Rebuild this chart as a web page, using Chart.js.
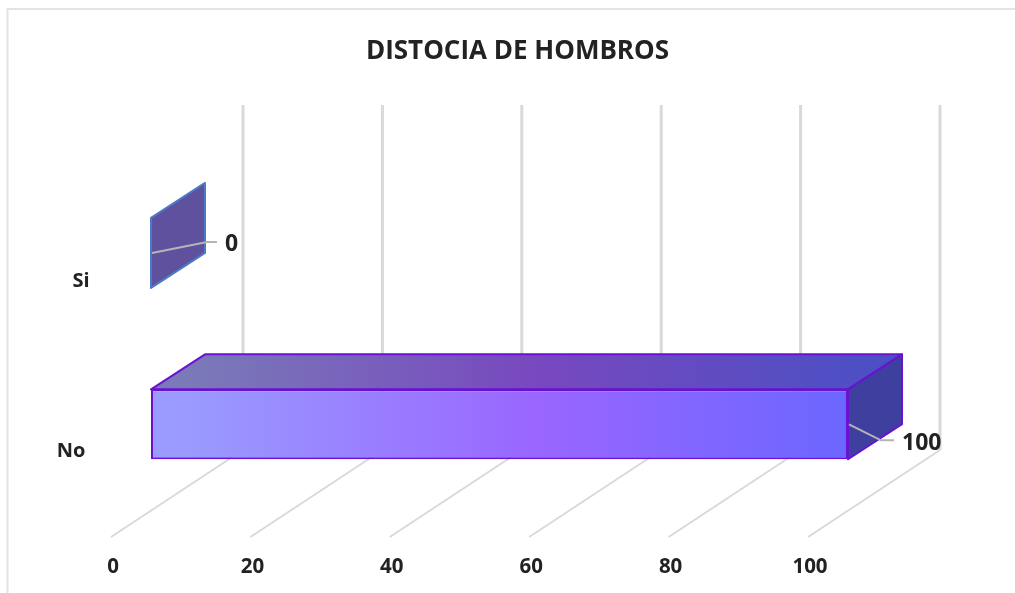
<!DOCTYPE html>
<html>
<head>
<meta charset="utf-8">
<title>Distocia de hombros</title>
<script src="https://cdn.jsdelivr.net/npm/chart.js@4/dist/chart.umd.min.js"></script>
<style>
    html, body { margin: 0; background: #fff; }
    canvas { display: block; }
</style>
</head>
<body>
<canvas id="hombrosChart" width="1015" height="593"></canvas>
<script>
const titleText = 'DISTOCIA DE HOMBROS';
const categories = ['Si', 'No'];
const casos = [0, 100];
const xMin = 0;
const xMax = 100;
const xStep = 20;

const FONT = '"Open Sans", sans-serif';
const TEXT_COLOR = '#222';
const GRID_COLOR = '#d9d9d9';
const FRONT_STOPS = ['#9a9aff', '#9966ff', '#6666ff'];
const TOP_STOPS = ['#7a7ab8', '#7848bf', '#4a50c4'];

// the bars sit part way back on the floor of the 3D box
const BAR_SHIFT = 38;
const BAR_DEPTH = { x: 54, y: -35 };
const FLOOR_FRONT_Y = 537;
const FLOOR_DEPTH = { x: 132, y: -87 };
const WALL_TOP = 105;

function xGradient(chart, stops) {
    const scale = chart.scales.x;
    const left = scale.getPixelForValue(xMin) + BAR_SHIFT;
    const right = scale.getPixelForValue(xMax) + BAR_SHIFT;
    // scales have no pixels yet on the first pass
    if (!Number.isFinite(left) || !Number.isFinite(right)) return stops[1];
    const g = chart.ctx.createLinearGradient(left, 0, right, 0);
    stops.forEach((c, i) => g.addColorStop(i / (stops.length - 1), c));
    return g;
}

function face(ctx, pts, fill, stroke) {
    ctx.beginPath();
    pts.forEach((p, i) => i ? ctx.lineTo(p[0], p[1]) : ctx.moveTo(p[0], p[1]));
    ctx.closePath();
    ctx.fillStyle = fill;
    ctx.fill();
    ctx.lineWidth = 2;
    ctx.strokeStyle = stroke;
    ctx.stroke();
}

// frame, back wall lines and floor lines
const boxPlugin = {
    id: 'box',
    beforeDatasetsDraw(chart) {
        const { ctx, scales: { x } } = chart;
        ctx.save();
        ctx.strokeStyle = '#e3e3e3';
        ctx.lineWidth = 2;
        ctx.beginPath();
        ctx.moveTo(7.5, 593);
        ctx.lineTo(7.5, 9);
        ctx.lineTo(1015, 9);
        ctx.stroke();

        ctx.strokeStyle = GRID_COLOR;
        x.ticks.forEach((t) => {
            const px = x.getPixelForValue(t.value) - 2;
            ctx.lineWidth = 2;
            ctx.beginPath();
            ctx.moveTo(px, FLOOR_FRONT_Y);
            ctx.lineTo(px + FLOOR_DEPTH.x, FLOOR_FRONT_Y + FLOOR_DEPTH.y);
            ctx.stroke();
            ctx.lineWidth = 3;
            ctx.beginPath();
            ctx.moveTo(px + FLOOR_DEPTH.x, FLOOR_FRONT_Y + FLOOR_DEPTH.y);
            ctx.lineTo(px + FLOOR_DEPTH.x, WALL_TOP);
            ctx.stroke();
        });
        ctx.restore();
    }
};

// top and side faces, then the library's own bar as the front face
const barPlugin = {
    id: 'bar3d',
    beforeDatasetsDraw(chart) {
        const { ctx } = chart;
        ctx.save();
        ctx.translate(BAR_SHIFT, 0);
        ctx.lineJoin = 'round';
        chart.getDatasetMeta(0).data.forEach((el, i) => {
            const top = el.y - el.height / 2;
            const bottom = el.y + el.height / 2;
            const d = BAR_DEPTH;
            const side = [[el.x, top], [el.x + d.x, top + d.y], [el.x + d.x, bottom + d.y], [el.x, bottom]];
            if (casos[i] > 0) {
                face(ctx, [[el.base, top], [el.x, top], [el.x + d.x, top + d.y], [el.base + d.x, top + d.y]],
                    xGradient(chart, TOP_STOPS), '#6a12d2');
                face(ctx, side, '#3f3f9f', '#6a12d2');
            } else {
                face(ctx, side, '#60519f', '#4a7ac8');
            }
        });
    },
    afterDatasetsDraw(chart) {
        chart.ctx.restore();
    }
};

// category names, leader lines and value labels
const labelPlugin = {
    id: 'labels3d',
    afterDraw(chart) {
        const { ctx, scales: { y } } = chart;
        const nameX = [81, 71];
        const nameDrop = [28, 27];
        const leaderDrop = [-11, 16];
        const labelDrop = [-8, 19];
        ctx.save();
        ctx.fillStyle = TEXT_COLOR;
        ctx.textBaseline = 'middle';
        ctx.font = 'bold 20px ' + FONT;
        ctx.textAlign = 'center';
        categories.forEach((c, i) => ctx.fillText(c, nameX[i], y.getPixelForValue(i) + nameDrop[i]));

        chart.getDatasetMeta(0).data.forEach((el, i) => {
            const px = el.x + BAR_SHIFT;
            const elbow = px + (casos[i] > 0 ? 33 : 56);
            const end = px + (casos[i] > 0 ? 46 : 66);
            ctx.strokeStyle = '#b5b5b5';
            ctx.lineWidth = 2;
            ctx.beginPath();
            ctx.moveTo(px + 1, el.y);
            ctx.lineTo(elbow, el.y + leaderDrop[i]);
            ctx.lineTo(end, el.y + leaderDrop[i]);
            ctx.stroke();
            ctx.font = 'bold 23px ' + FONT;
            ctx.textAlign = 'left';
            ctx.fillText(String(casos[i]), end + 8, el.y + labelDrop[i]);
        });
        ctx.restore();
    }
};

const titleShiftPlugin = {
    id: 'titleShift',
    afterLayout(chart) {
        // title is centred on the frame rather than on the plot
        chart.titleBlock.left = 20;
        chart.titleBlock.right = 1015;
    }
};

new Chart(document.getElementById('hombrosChart'), {
    type: 'bar',
    data: {
        labels: categories,
        datasets: [{
            label: 'Distocia de hombros',
            data: casos,
            backgroundColor: (c) => xGradient(c.chart, FRONT_STOPS),
            borderColor: '#6a12d2',
            borderWidth: (c) => (casos[c.dataIndex] > 0 ? 2 : 0),
            borderSkipped: false,
            barPercentage: 0.408,
            categoryPercentage: 1
        }]
    },
    plugins: [boxPlugin, barPlugin, labelPlugin, titleShiftPlugin],
    options: {
        indexAxis: 'y',
        responsive: false,
        animation: false,
        layout: { padding: { left: 113, right: 205, top: 0, bottom: 0 } },
        plugins: {
            legend: { display: false },
            tooltip: { enabled: false },
            title: {
                display: true,
                text: titleText,
                color: TEXT_COLOR,
                font: { family: FONT, size: 26, weight: 'bold' },
                padding: { top: 36, bottom: 100 }
            }
        },
        scales: {
            x: {
                min: xMin,
                max: xMax,
                grid: { display: false },
                border: { display: false },
                afterFit(scale) {
                    scale.height = 83;
                },
                ticks: {
                    stepSize: xStep,
                    maxRotation: 0,
                    padding: 37,
                    color: TEXT_COLOR,
                    font: { family: FONT, size: 20.5, weight: 'bold' }
                }
            },
            y: { display: false }
        }
    }
});
</script>
</body>
</html>
